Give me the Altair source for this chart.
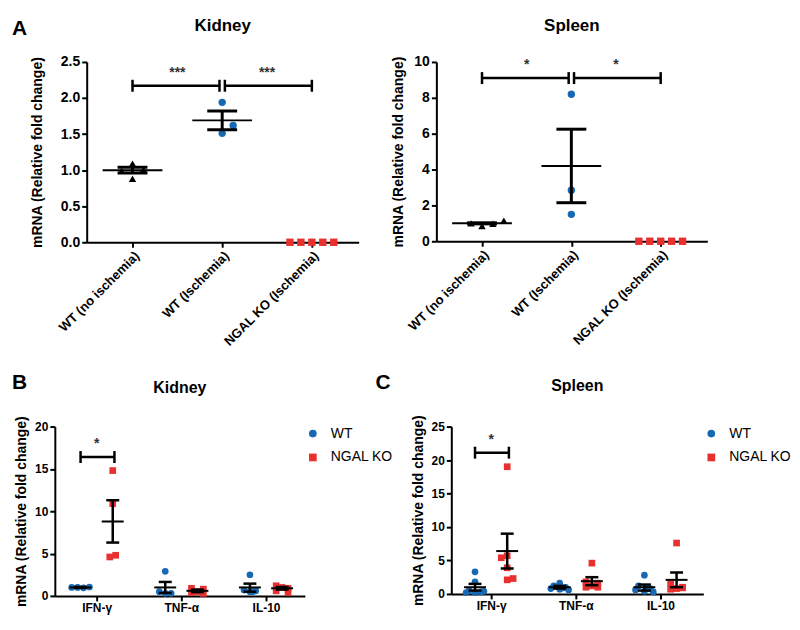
import json
import altair as alt
import pandas as pd

FONT = "Liberation Sans"
BLACK = "#000000"
BLUE = "#1769b3"
RED = "#e8312f"
STAR = "#333333"
YTITLE = "mRNA (Relative fold change)"

# ---------------- Panel A data ----------------
a_groups = ["WT (no ischemia)", "WT (Ischemia)", "NGAL KO (Ischemia)"]

# Kidney
ak_noisch = [0.99, 1.09, 0.88, 1.01]
ak_noisch_pos = [-1, 0, 0, 1]
ak_isch = [1.94, 1.62, 1.51]
ak_isch_pos = [0, 1, 0]
ak_ko = [0.0, 0.0, 0.0, 0.0, 0.0]
ak_ko_pos = [-2, -1, 0, 1, 2]
ak_mean = [1.00, 1.69]
ak_upper = [1.04, 1.82]
ak_lower = [0.96, 1.56]
ak_yticks = [0, 0.5, 1.0, 1.5, 2.0, 2.5]
ak_sig = ["***", "***"]
ak_sig_y = 2.17
ak_star_y = 2.35

# Spleen
as_noisch = [1.0, 0.85, 0.98, 1.15]
as_noisch_pos = [-1, 0, 1, 2]
as_isch = [8.2, 2.85, 1.5]
as_isch_pos = [0, 0, 0]
as_ko = [0.0, 0.0, 0.0, 0.0, 0.0]
as_ko_pos = [-2, -1, 0, 1, 2]
as_mean = [1.0, 4.2]
as_upper = [1.03, 6.25]
as_lower = [0.97, 2.15]
as_yticks = [0, 2, 4, 6, 8, 10]
as_sig = ["*", "*"]
as_sig_y = 9.1
as_star_y = 9.85

# comparison brackets (group index from, to)
a_br_from = [0.0, 1.03]
a_br_to = [0.97, 2.0]
a_star_x = [0.5, 1.5]

# ---------------- Panels B / C data ----------------
b_cats = ["IFN-γ", "TNF-α", "IL-10"]
genos = ["WT", "NGAL KO"]

# Kidney (B)
bk_wt = [[1.0, 1.0, 0.95, 1.05], [2.9, 0.5, 0.3, 0.3], [2.5, 0.7, 0.5, 0.6, 0.5]]
bk_wt_pos = [[-1.5, -0.5, 0.5, 1.5], [0, -1, 0, 1], [0, -1, 0, 1, 0.5]]
bk_ko = [[14.8, 10.9, 4.6, 4.8], [0.9, 0.8, 0.5, 0.4, 0.3], [1.2, 1.0, 0.9, 0.6, 0.4]]
bk_ko_pos = [[0, 0, -0.5, 0.5], [-1, 1, 0, -1, 1], [-1, 0, 1, -1, 1]]
bk_wt_mean = [1.0, 1.0, 1.0]
bk_wt_upper = [1.05, 1.65, 1.45]
bk_wt_lower = [0.95, 0.35, 0.5]
bk_ko_mean = [8.8, 0.6, 0.9]
bk_ko_upper = [11.3, 0.75, 1.05]
bk_ko_lower = [6.3, 0.45, 0.75]
bk_yticks = [0, 5, 10, 15, 20]
bk_sig_y = 16.4
bk_star_y = 17.9

# Spleen (C)
cs_wt = [[3.3, 1.8, 0.5, 0.3, 0.2, 0.2, 0.4],
         [1.6, 1.2, 1.0, 0.8, 0.7, 0.6, 0.9],
         [2.8, 1.2, 0.8, 0.6, 0.4, 0.3, 0.8]]
cs_wt_pos = [[0, 0, -1, 1, -1.5, 0, 1.5],
             [0, -1, 1, -1.5, 0, 1.5, 0.5],
             [0, -1, 1, -1.5, 0, 1.5, 0.5]]
cs_ko = [[19.0, 5.7, 5.4, 3.9, 2.3, 2.1],
         [4.6, 1.8, 1.6, 1.2, 1.0, 1.0],
         [7.6, 1.5, 1.0, 0.8, 0.7, 0.9]]
cs_ko_pos = [[0, 0, -1, 0, 1, 0],
             [0, -1, 1, 0, -1, 1],
             [0, -1, 1, 0, -1, 1]]
cs_wt_mean = [1.0, 1.0, 1.0]
cs_wt_upper = [1.5, 1.2, 1.4]
cs_wt_lower = [0.5, 0.8, 0.5]
cs_ko_mean = [6.4, 1.9, 2.1]
cs_ko_upper = [9.0, 2.5, 3.2]
cs_ko_lower = [3.8, 1.3, 1.0]
cs_yticks = [0, 5, 10, 15, 20, 25]
cs_sig_y = 21.1
cs_star_y = 23.0

b_br_from = [-0.19]
b_br_to = [0.21]
b_star_x = [0.0]


def label_expr(names):
    return json.dumps(names, ensure_ascii=False) + "[datum.value]"


def text_layer(txt, x, y, size, align="left", weight="bold"):
    return alt.Chart(pd.DataFrame({"t": [txt]})).mark_text(
        font=FONT, fontSize=size, fontWeight=weight, align=align,
        baseline="alphabetic", color=BLACK
    ).encode(text="t:N", x=alt.value(x), y=alt.value(y))


def sem_layers(err, X, Yf, mean_len, cap_len, rule_w, dodge):
    eb = alt.Chart(err)
    if dodge:
        eb = eb.transform_calculate(xe="datum.g + (datum.geno == 'WT' ? -0.19 : 0.19)")
    else:
        eb = eb.transform_calculate(xe="datum.g")
    tick = dict(orient="horizontal", color=BLACK, opacity=1)
    mean_t = eb.mark_tick(size=mean_len, thickness=2, **tick).encode(x=X("xe"), y=Yf("m"))
    vrule = eb.mark_rule(strokeWidth=rule_w, color=BLACK).encode(x=X("xe"), y=Yf("u"), y2="l:Q")
    cap_u = eb.mark_tick(size=cap_len, thickness=rule_w, **tick).encode(x=X("xe"), y=Yf("u"))
    cap_l = eb.mark_tick(size=cap_len, thickness=rule_w, **tick).encode(x=X("xe"), y=Yf("l"))
    return [mean_t, vrule, cap_u, cap_l]


def sig_layers(br_from, br_to, sig, sig_y, star_x, star_y, X, Yf):
    br = pd.DataFrame({"x1": br_from, "x2": br_to, "y": [sig_y] * len(br_from)})
    brc = pd.DataFrame({"x": br_from + br_to, "y": [sig_y] * (2 * len(br_from))})
    st = pd.DataFrame({"x": star_x, "y": [star_y] * len(star_x), "t": sig})
    br_line = alt.Chart(br).mark_rule(strokeWidth=2.5, color=BLACK).encode(
        x=X("x1"), x2="x2:Q", y=Yf("y"))
    br_caps = alt.Chart(brc).mark_tick(orient="vertical", size=12, thickness=2.5,
                                       color=BLACK, opacity=1).encode(x=X("x"), y=Yf("y"))
    stars = alt.Chart(st).mark_text(font=FONT, fontSize=14, fontWeight="bold",
                                    color=STAR, baseline="middle").encode(
        x=X("x"), y=Yf("y"), text="t:N")
    return [br_line, br_caps, stars]


def make_a(noisch, noisch_pos, isch, isch_pos, ko, ko_pos, mean, upper, lower,
           yticks, yfmt, sig, sig_y, star_y, title, w, h, x0=0, letter=None, title_pad=16):
    # x0: empty margin (px) at the left of the view box before the axis
    xs = alt.Scale(domain=[-0.511, 2.522], nice=False, zero=False, range=[x0, x0 + w])
    ys = alt.Scale(domain=[0, yticks[-1]], nice=False, zero=False)
    step = 11 / 90
    xaxis = alt.Axis(values=[0, 1, 2], labelExpr=label_expr(a_groups), labelAngle=-45,
                     labelFontSize=13, title=None, labelOverlap=False, labelBound=False,
                     labelFlush=False)
    yaxis = alt.Axis(values=yticks, format=yfmt, title=YTITLE, titlePadding=title_pad,
                     labelOverlap=False, labelFlush=False, offset=-x0)

    def X(f):
        return alt.X(f"{f}:Q", scale=xs, axis=xaxis)

    def Yf(f):
        return alt.Y(f"{f}:Q", scale=ys, axis=yaxis)

    def pts_layer(vals, pos, g, shape, color):
        df = pd.DataFrame({"g": [g] * len(vals), "pos": pos, "v": vals})
        return alt.Chart(df).transform_calculate(
            xp=f"datum.g + datum.pos * {step}"
        ).mark_point(filled=True, opacity=1, size=55, shape=shape, color=color).encode(
            x=X("xp"), y=Yf("v"))

    layers = [
        pts_layer(noisch, noisch_pos, 0, "triangle-up", BLACK),
        pts_layer(isch, isch_pos, 1, "circle", BLUE),
        pts_layer(ko, ko_pos, 2, "square", RED),
    ]
    err = pd.DataFrame({"g": [0, 1], "m": mean, "u": upper, "l": lower})
    layers += sem_layers(err, X, Yf, 60, 30, 3, False)
    layers += sig_layers(a_br_from, a_br_to, sig, sig_y, a_star_x, star_y, X, Yf)
    layers.append(text_layer(title, x0 + w / 2, -31, 17, align="center"))
    if letter is not None:
        layers.append(text_layer(letter[0], x0 + letter[1], letter[2], 21))
    return alt.layer(*layers).properties(width=x0 + w, height=h)


def make_bc(wt, wt_pos, ko, ko_pos, wt_m, wt_u, wt_l, ko_m, ko_u, ko_l, yticks,
            sig_y, star_y, xdom, title, title_y, w, h, letters, title_pad=6):
    xs = alt.Scale(domain=xdom, nice=False, zero=False)
    ys = alt.Scale(domain=[0, yticks[-1]], nice=False, zero=False)
    xaxis = alt.Axis(values=[0, 1, 2], labelExpr=label_expr(b_cats), labelAngle=0,
                     title=None, labelFontSize=12, labelOverlap=False, labelFlush=False)
    yaxis = alt.Axis(values=yticks, format="d", title=YTITLE, titlePadding=title_pad,
                     labelFontSize=12, labelOverlap=False, labelFlush=False)

    def X(f):
        return alt.X(f"{f}:Q", scale=xs, axis=xaxis)

    def Yf(f):
        return alt.Y(f"{f}:Q", scale=ys, axis=yaxis)

    rows = []
    for i in range(len(b_cats)):
        for v, p in zip(wt[i], wt_pos[i]):
            rows.append({"g": i, "geno": "WT", "v": v, "pos": p})
        for v, p in zip(ko[i], ko_pos[i]):
            rows.append({"g": i, "geno": "NGAL KO", "v": v, "pos": p})
    pts = pd.DataFrame(rows)
    leg = alt.Legend(title=None, orient="right", offset=1, padding=0, symbolSize=60,
                     labelFontSize=14, labelFont=FONT, labelColor=BLACK, labelOffset=11,
                     rowPadding=10, symbolStrokeWidth=0)
    points = alt.Chart(pts).transform_calculate(
        xp="datum.g + (datum.geno == 'WT' ? -0.19 : 0.19) + datum.pos * 0.07"
    ).mark_point(filled=True, opacity=1, size=45).encode(
        x=X("xp"), y=Yf("v"),
        shape=alt.Shape("geno:N", scale=alt.Scale(domain=genos, range=["circle", "square"]),
                        legend=leg),
        color=alt.Color("geno:N", scale=alt.Scale(domain=genos, range=[BLUE, RED]),
                        legend=leg),
    )
    err = pd.DataFrame({
        "g": list(range(3)) * 2,
        "geno": ["WT"] * 3 + ["NGAL KO"] * 3,
        "m": wt_m + ko_m, "u": wt_u + ko_u, "l": wt_l + ko_l,
    })
    layers = [points]
    layers += sem_layers(err, X, Yf, 22, 13, 2.5, True)
    layers += sig_layers(b_br_from, b_br_to, ["*"], sig_y, b_star_x, star_y, X, Yf)
    layers.append(text_layer(title, w / 2, title_y, 16, align="center"))
    for lt in letters:
        layers.append(text_layer(lt[0], lt[1], lt[2], 21))
    return alt.layer(*layers).properties(width=w, height=h)


# kidney panel A: its axis sits 32 px right of panel B's axis
kid_a = make_a(ak_noisch, ak_noisch_pos, ak_isch, ak_isch_pos, ak_ko, ak_ko_pos,
               ak_mean, ak_upper, ak_lower, ak_yticks, ".1f", ak_sig, ak_sig_y, ak_star_y,
               "Kidney", 273, 181, x0=32, letter=("A", -75, -27), title_pad=16)
spl_a = make_a(as_noisch, as_noisch_pos, as_isch, as_isch_pos, as_ko, as_ko_pos,
               as_mean, as_upper, as_lower, as_yticks, "d", as_sig, as_sig_y, as_star_y,
               "Spleen", 272, 180, title_pad=8)
kid_b = make_bc(bk_wt, bk_wt_pos, bk_ko, bk_ko_pos, bk_wt_mean, bk_wt_upper, bk_wt_lower,
                bk_ko_mean, bk_ko_upper, bk_ko_lower, bk_yticks, bk_sig_y, bk_star_y,
                [-0.494, 2.459], "Kidney", -34, 251, 170,
                letters=[("B", -43, -38), ("C", 322, -38)])
spl_c = make_bc(cs_wt, cs_wt_pos, cs_ko, cs_ko_pos, cs_wt_mean, cs_wt_upper, cs_wt_lower,
                cs_ko_mean, cs_ko_upper, cs_ko_lower, cs_yticks, cs_sig_y, cs_star_y,
                [-0.47, 2.506], "Spleen", -36, 253, 168, letters=[])

row_a = alt.hconcat(kid_a, spl_a, spacing=78, bounds="flush")
row_b = alt.hconcat(kid_b, spl_c, spacing=147, bounds="flush").resolve_legend(
    color="independent", shape="independent")

# flush rows report no height of their own, so the row spacing is the full
# distance between the two rows' plot tops
chart = alt.vconcat(row_a, row_b, spacing=366, bounds="flush").properties(
    padding={"left": 4, "top": 8, "right": 0, "bottom": 0},
    background="white",
).configure_view(stroke=None).configure_axis(
    labelFont=FONT, labelFontWeight="bold", labelFontSize=14, labelColor=BLACK,
    titleFont=FONT, titleFontSize=14, titleFontWeight="bold", titleColor=BLACK,
    domainColor=BLACK, domainWidth=2, tickColor=BLACK, tickWidth=2, tickSize=5,
    labelPadding=2, grid=False
)

chart.save("out.html", embed_options={"renderer": "svg", "actions": False})
